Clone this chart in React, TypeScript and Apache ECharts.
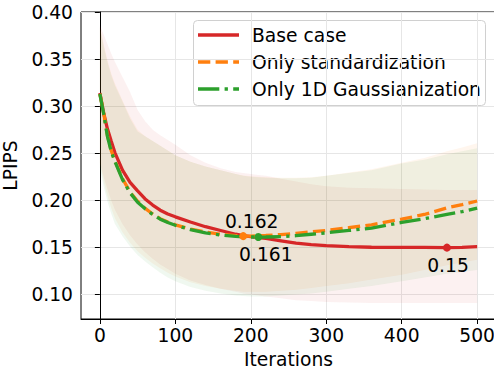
import React, { useEffect, useRef } from "react";
import * as echarts from "echarts";

// ---- data ----
const iterations = [0, 5, 10, 15, 20, 30, 40, 50, 60, 70, 80, 90, 100, 120, 140, 160, 180, 190, 200, 210, 220, 240, 260, 280, 300, 330, 360, 400, 430, 460, 480, 500];

const baseMean = [0.314, 0.293, 0.276, 0.263, 0.2505, 0.232, 0.219, 0.21, 0.2015, 0.195, 0.1895, 0.1855, 0.1825, 0.177, 0.172, 0.168, 0.164, 0.1625, 0.1615, 0.1605, 0.1595, 0.157, 0.1545, 0.153, 0.152, 0.1508, 0.1502, 0.15, 0.15, 0.1498, 0.15, 0.1508];
const baseUpper = [0.386, 0.376, 0.366, 0.356, 0.347, 0.331, 0.315, 0.296, 0.284, 0.275, 0.269, 0.264, 0.259, 0.248, 0.24, 0.234, 0.23, 0.229, 0.228, 0.227, 0.226, 0.223, 0.22, 0.217, 0.215, 0.2135, 0.2128, 0.212, 0.2115, 0.211, 0.211, 0.211];
const baseLower = [0.24, 0.225, 0.212, 0.2, 0.19, 0.175, 0.163, 0.153, 0.145, 0.138, 0.132, 0.127, 0.122, 0.115, 0.11, 0.106, 0.103, 0.101, 0.1, 0.099, 0.098, 0.096, 0.094, 0.093, 0.092, 0.0915, 0.091, 0.091, 0.091, 0.091, 0.091, 0.091];

const stdMean = [0.313, 0.293, 0.269, 0.253, 0.242, 0.223, 0.209, 0.199, 0.1915, 0.1855, 0.1805, 0.177, 0.174, 0.1695, 0.1663, 0.164, 0.1625, 0.162, 0.1621, 0.1623, 0.1627, 0.1637, 0.165, 0.1665, 0.168, 0.171, 0.174, 0.18, 0.185, 0.192, 0.1955, 0.1993];
const stdUpper = [0.384, 0.366, 0.349, 0.335, 0.324, 0.306, 0.289, 0.275, 0.268, 0.263, 0.258, 0.253, 0.248, 0.241, 0.236, 0.232, 0.228, 0.2265, 0.2255, 0.225, 0.2245, 0.224, 0.224, 0.2245, 0.226, 0.2295, 0.233, 0.24, 0.245, 0.252, 0.256, 0.2606];
const stdLower = [0.238, 0.22, 0.205, 0.192, 0.181, 0.166, 0.155, 0.146, 0.139, 0.133, 0.128, 0.123, 0.119, 0.113, 0.109, 0.106, 0.104, 0.103, 0.103, 0.103, 0.103, 0.104, 0.105, 0.107, 0.109, 0.112, 0.116, 0.121, 0.126, 0.131, 0.134, 0.137];

const gaussMean = [0.313, 0.292, 0.268, 0.252, 0.241, 0.222, 0.208, 0.198, 0.191, 0.185, 0.18, 0.1765, 0.1735, 0.169, 0.1655, 0.1632, 0.1618, 0.1613, 0.1611, 0.161, 0.1611, 0.1615, 0.1625, 0.164, 0.1655, 0.168, 0.1705, 0.1765, 0.1805, 0.185, 0.188, 0.1918];
const gaussUpper = [0.384, 0.364, 0.347, 0.333, 0.322, 0.305, 0.287, 0.273, 0.268, 0.263, 0.258, 0.253, 0.248, 0.241, 0.236, 0.232, 0.228, 0.226, 0.225, 0.2245, 0.224, 0.2235, 0.2235, 0.224, 0.226, 0.229, 0.232, 0.239, 0.243, 0.249, 0.252, 0.2553];
const gaussLower = [0.235, 0.215, 0.199, 0.186, 0.175, 0.162, 0.151, 0.142, 0.135, 0.129, 0.123, 0.118, 0.114, 0.108, 0.104, 0.101, 0.099, 0.0985, 0.098, 0.098, 0.098, 0.099, 0.1, 0.101, 0.103, 0.106, 0.109, 0.114, 0.118, 0.122, 0.124, 0.126];

const seriesNames = ["Base case", "Only standardization", "Only 1D Gaussianization"];
const xTicks = [0, 100, 200, 300, 400, 500];
const yTicks = [0.1, 0.15, 0.2, 0.25, 0.3, 0.35, 0.4];

const COLORS = ["#d62728", "#ff7f0e", "#2ca02c"];
const BAND_COLORS = ["rgba(214,39,40,0.065)", "rgba(255,127,14,0.07)", "rgba(44,160,44,0.07)"];
const DASHES: any[] = ["solid", [12.3, 5.3], [21.3, 5.3, 3.3, 5.3]];
const FONT = "DejaVu Sans";
const FS = 18.7;

function bandSeries(lower: number[], upper: number[], color: string) {
  const data = iterations.map((x, i) => [x, lower[i], upper[i]]);
  return {
    type: "custom",
    silent: true,
    data,
    encode: { x: 0, y: [1, 2] },
    renderItem: (params: any, api: any) => {
      if (params.dataIndex !== 0) return { type: "group", children: [] };
      const pts: number[][] = [];
      for (let i = 0; i < iterations.length; i++) pts.push(api.coord([iterations[i], upper[i]]));
      for (let i = iterations.length - 1; i >= 0; i--) pts.push(api.coord([iterations[i], lower[i]]));
      return { type: "polygon", shape: { points: pts }, style: { fill: color, stroke: "none" } };
    },
  };
}

function argMin(arr: number[]) {
  let k = 0;
  for (let i = 1; i < arr.length; i++) if (arr[i] < arr[k]) k = i;
  return k;
}

function lineSeries(idx: number, mean: number[], labelPos: string, labelOffset: number[], labelDist: number) {
  const k = argMin(mean);
  const v = mean[k];
  return {
    type: "line",
    name: seriesNames[idx],
    data: iterations.map((x, i) => [x, mean[i]]),
    showSymbol: false,
    symbol: "none",
    lineStyle: { color: COLORS[idx], width: 3.3, type: DASHES[idx] },
    itemStyle: { color: COLORS[idx] },
    markPoint: {
      symbol: "circle",
      symbolSize: 8,
      itemStyle: { color: COLORS[idx] },
      data: [{ coord: [iterations[k], v], value: v }],
      label: {
        show: true,
        position: labelPos,
        distance: labelDist,
        offset: labelOffset,
        formatter: () => String(Math.round(v * 1000) / 1000),
        color: "#000",
        fontSize: FS,
        fontFamily: FONT,
      },
    },
  };
}

export default function App() {
  const ref = useRef<HTMLDivElement>(null);
  useEffect(() => {
    if (!ref.current) return;
    const chart = echarts.init(ref.current, null, { renderer: "svg" });
    const legendRows = [35, 62, 89];
    const legendChildren: any[] = [
      {
        type: "rect",
        shape: { x: 193.5, y: 20.5, width: 292, height: 85, r: 4 },
        style: { fill: "rgba(255,255,255,0.9)", stroke: "#d0d0d0", lineWidth: 1 },
      },
    ];
    seriesNames.forEach((n, i) => {
      legendChildren.push({
        type: "line",
        shape: { x1: 198, y1: legendRows[i], x2: 239, y2: legendRows[i] },
        style: {
          stroke: COLORS[i],
          lineWidth: 3.3,
          lineDash: DASHES[i] === "solid" ? null : DASHES[i],
        },
      });
      legendChildren.push({
        type: "text",
        style: {
          text: n,
          x: 252,
          y: legendRows[i],
          verticalAlign: "middle",
          fill: "#000",
          font: `${FS}px "${FONT}"`,
        },
      });
    });

    chart.setOption({
      animation: false,
      textStyle: { fontFamily: FONT },
      grid: {
        left: 81,
        top: 12,
        width: 415,
        height: 307,
        show: true,
        borderColor: "#000",
        borderWidth: 1,
        backgroundColor: "transparent",
        containLabel: false,
        outerBoundsMode: "none",
      },
      xAxis: {
        type: "value",
        min: -25,
        max: 525,
        name: "Iterations",
        nameLocation: "middle",
        nameGap: 23,
        nameTextStyle: { fontSize: FS, color: "#000", fontFamily: FONT, lineHeight: 18 },
        axisLine: { show: true, lineStyle: { color: "#000", width: 1 } },
        axisTick: { show: true, length: 5, lineStyle: { color: "#000" }, customValues: xTicks },
        axisLabel: { customValues: xTicks, fontSize: FS, color: "#000", margin: 7, fontFamily: FONT },
        splitLine: { show: true, lineStyle: { color: "#e6e6e6", width: 1 } },
      },
      yAxis: {
        type: "value",
        min: 0.074,
        max: 0.4,
        name: "LPIPS",
        nameLocation: "middle",
        nameGap: 53,
        nameTextStyle: { fontSize: FS, color: "#000", fontFamily: FONT },
        axisLine: { show: true, lineStyle: { color: "#000", width: 1 } },
        axisTick: { show: true, length: 5, lineStyle: { color: "#000" }, customValues: yTicks },
        axisLabel: {
          customValues: yTicks,
          fontSize: FS,
          color: "#000",
          margin: 8,
          fontFamily: FONT,
          formatter: (v: number) => v.toFixed(2),
        },
        splitLine: { show: true, lineStyle: { color: "#e6e6e6", width: 1 } },
      },
      series: [
        bandSeries(baseLower, baseUpper, BAND_COLORS[0]),
        bandSeries(stdLower, stdUpper, BAND_COLORS[1]),
        bandSeries(gaussLower, gaussUpper, BAND_COLORS[2]),
        lineSeries(0, baseMean, "bottom", [1, 0], 4),
        lineSeries(1, stdMean, "top", [8.5, 0], 1),
        lineSeries(2, gaussMean, "bottom", [7.5, 0], 4),
      ],
      graphic: [{ type: "group", z: 100, children: legendChildren }],
    });
    return () => chart.dispose();
  }, []);
  return (
    <div
      ref={ref}
      style={{ position: "fixed", left: 0, top: 0, width: 494, height: 366, background: "#fff" }}
    />
  );
}
